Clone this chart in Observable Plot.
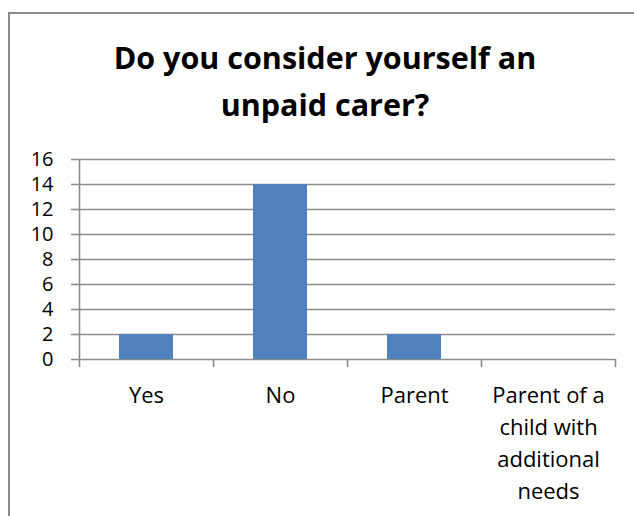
<!DOCTYPE html>
<html>
<head>
<meta charset="utf-8">
<script src="https://cdn.jsdelivr.net/npm/d3@7"></script>
<script src="https://cdn.jsdelivr.net/npm/@observablehq/plot@0.6"></script>
<style>
  html, body { margin: 0; padding: 0; background: #fff; overflow: hidden; }
  #frame { position: absolute; left: 8px; top: 12px; width: 640px; height: 520px; z-index: 2; pointer-events: none;
           border-left: 2px solid #8a8a8a; border-top: 2px solid #8a8a8a; box-sizing: border-box; }
  #title { position: absolute; left: 8px; top: 34px; width: 634px; text-align: center;
           font-family: "Open Sans", sans-serif; font-weight: bold; font-size: 30.5px; line-height: 47px; color: #000; }
  #chart { position: absolute; left: 0; top: 130px; }
</style>
</head>
<body>
<div id="frame"></div>
<div id="title">Do you consider yourself an<br>unpaid carer?</div>
<div id="chart"></div>
<script>
const categories = ["Yes", "No", "Parent", "Parent of a child with additional needs"];
const values = [2, 14, 2, 0];
const tickLabels = ["Yes", "No", "Parent", "Parent of a\nchild with\nadditional\nneeds"];
const yTicks = [0, 2, 4, 6, 8, 10, 12, 14, 16];

const data = categories.map((c, i) => ({category: c, value: values[i]}));
const labelOf = new Map(categories.map((c, i) => [c, tickLabels[i]]));

const W = 634, H = 386, mL = 79, mR = 19, mT = 29, mB = 157;
const bw = (W - mL - mR) / categories.length;
const gray = "#8c8c8c";

const boundaries = categories.map((c, i) => ({c, dx: -bw / 2})).concat([{c: categories[categories.length - 1], dx: bw / 2}]);

const plot = Plot.plot({
  width: W, height: H,
  marginLeft: mL, marginRight: mR, marginTop: mT, marginBottom: mB,
  style: {fontFamily: "'Open Sans', sans-serif", fontSize: "22px", color: "#000", background: "transparent"},
  x: {domain: categories, padding: 0, label: null},
  y: {domain: [0, 16], label: null},
  marks: [
    Plot.ruleY(yTicks, {y: d => d, stroke: gray, strokeWidth: 1.6, strokeOpacity: 1}),
    Plot.barY(data, {x: "category", y: "value", fill: "#4F81BD", insetLeft: 40, insetRight: 40}),
    Plot.axisY(yTicks, {tickSize: 8, tickPadding: 18, stroke: gray, strokeWidth: 1.6, strokeOpacity: 1, fontSize: 20, fill: "#000", label: null}),
    Plot.ruleX([categories[0]], {x: d => d, dx: -bw / 2, y1: 0, y2: 16, stroke: gray, strokeWidth: 1.6}),
    ...boundaries.map(b => Plot.ruleX([b.c], {x: d => d, dx: b.dx, y1: 0, y2: 0, insetBottom: -8, stroke: gray, strokeWidth: 1.6})),
    Plot.axisX({tickSize: 0, tickPadding: 21, tickFormat: d => labelOf.get(d), lineHeight: 1.45, fontSize: 22, fill: "#000", label: null})
  ]
});
document.getElementById("chart").appendChild(plot);
</script>
</body>
</html>
